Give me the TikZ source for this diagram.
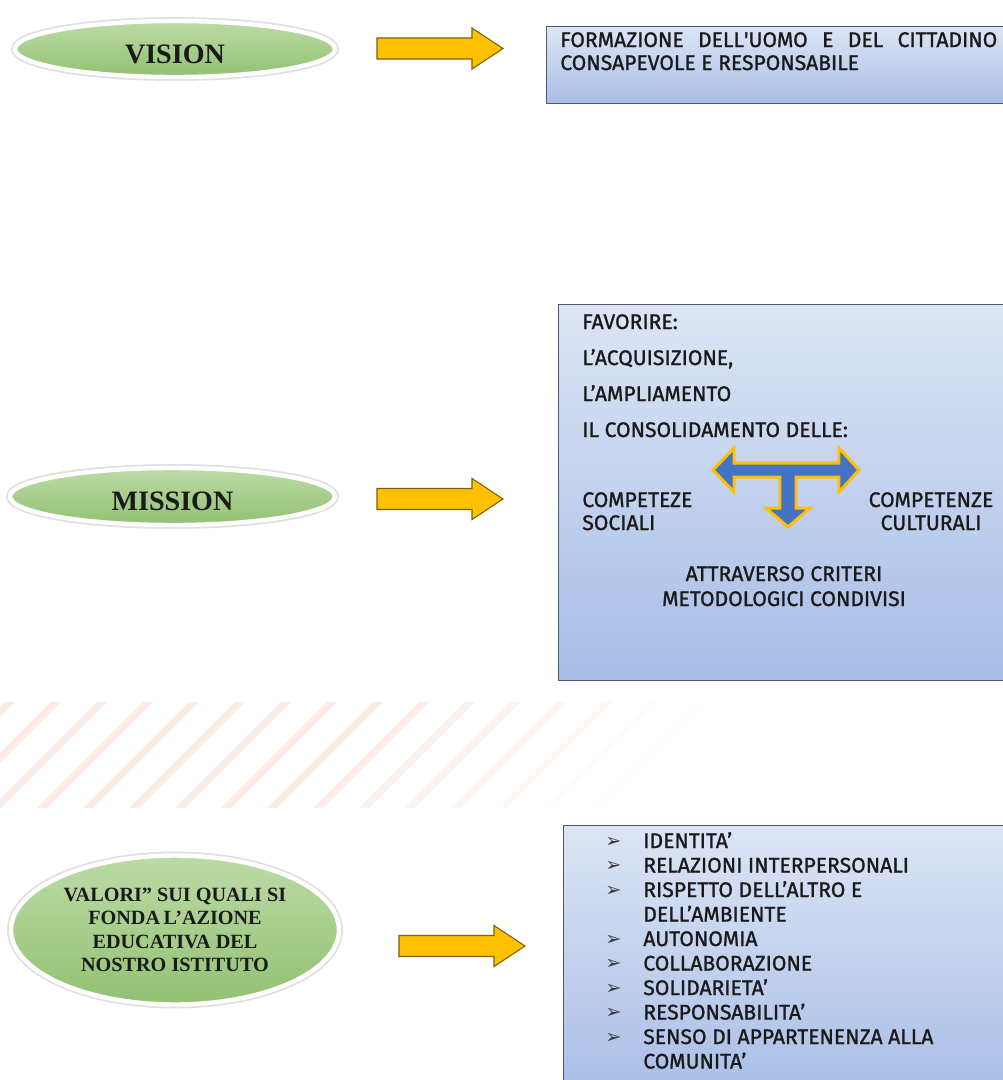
\documentclass[tikz,border=0pt]{standalone}
\usepackage{fontspec}
\setmainfont{Liberation Serif}
\setsansfont{Fira Sans}
\newfontfamily\dinfont[FakeBold=1.2]{Fira Sans}
\newfontfamily\symfont{DejaVu Sans}
\usetikzlibrary{positioning,shapes.geometric}

\definecolor{arrowyellow}{HTML}{FFC000}
\definecolor{arrowedge}{HTML}{7F6000}
\definecolor{tblue}{HTML}{4472C4}
\definecolor{boxtop}{HTML}{F7F9FD}
\definecolor{boxblue}{HTML}{A8BDE6}
\definecolor{boxlight}{HTML}{C2D1EE}
\definecolor{greentop}{HTML}{BCDBA6}
\definecolor{greenbot}{HTML}{92C172}
\definecolor{stripecol}{HTML}{FCEBE3}
\definecolor{edgegray}{HTML}{505A66}
\definecolor{inkcol}{HTML}{1A1A1A}

\pgfdeclareverticalshading{boxfill}{100bp}{color(0bp)=(boxlight); color(25bp)=(boxblue); color(100bp)=(boxtop)}

\tikzset{
  oval/.style={ellipse, inner sep=0pt, top color=greentop, bottom color=greenbot,
    draw=white, line width=2.5pt, preaction={draw=black!12, line width=4.5pt},
    text=inkcol, align=center},
  ovaltext/.style={font=\rmfamily\bfseries\fontsize{16}{19}\selectfont, text height=16pt, text depth=0pt},
  infobox/.style={rectangle, inner sep=0pt, draw=edgegray, line width=0.8pt, shading=boxfill, anchor=north west},
  boxtext/.style={font=\dinfont\fontsize{12}{14}\selectfont, text=inkcol, anchor=base west, inner sep=0pt},
  bulletmark/.style={font=\symfont\fontsize{11}{11}\selectfont, text=inkcol!85, anchor=base west, inner sep=0pt}
}

\begin{document}
\begin{tikzpicture}[x=0.02cm, y=-0.02cm]
  \useasboundingbox[fill=white] (0,0) rectangle (1003,1080);

  % striped band
  \begin{scope}
    \clip (0,702) rectangle (720,807);
    \foreach \i in {0,...,17}{
      \pgfmathtruncatemacro\p{min(100, max(0, (720-(5+46*\i))/3.2))}
      \draw[stripecol!\p!white, line width=4pt] ({-100+46*\i}, 812) -- ++(115,-115);
    }
  \end{scope}

  \node[oval, ovaltext, minimum width=6.4cm, minimum height=1.12cm] (vision) at (175,49) {VISION};
  \node[oval, ovaltext, minimum width=6.5cm, minimum height=1.14cm] (mission) at (172.5,496.5) {MISSION};
  \node[oval, font=\rmfamily\bfseries\fontsize{11.5}{13.3}\selectfont, minimum width=6.56cm, minimum height=2.98cm] (valori) at (175,930)
    {VALORI” SUI QUALI SI\\FONDA\kern2pt L’AZIONE\\EDUCATIVA DEL\\NOSTRO ISTITUTO};

  \foreach \ax/\ay in {377/48.5, 377/499, 399/946}
    \filldraw[fill=arrowyellow, draw=arrowedge, line width=0.6pt]
      (\ax,{\ay-10.5}) -- ({\ax+95},{\ay-10.5}) -- ({\ax+95},{\ay-20.5}) -- ({\ax+126},\ay)
      -- ({\ax+95},{\ay+20.5}) -- ({\ax+95},{\ay+10.5}) -- (\ax,{\ay+10.5}) -- cycle;

  \node[infobox, minimum width=9.28cm, minimum height=1.54cm] (visionbox) at (546,26) {};
  \node[infobox, minimum width=9.04cm, minimum height=7.52cm] (missionbox) at (558,304) {};
  \node[infobox, minimum width=8.94cm, minimum height=5.5cm] (valoribox) at (563,825) {};

  \node[boxtext] (form1) at (560,47) {\makebox[8.74cm][s]{FORMAZIONE DELL\textquotesingle UOMO E DEL CITTADINO}};
  \node[boxtext] (form2) at (560,70) {CONSAPEVOLE E RESPONSABILE};

  \node[boxtext] (fav) at (582,329) {FAVORIRE:};
  \node[boxtext] (acq) at (582,365) {L’ACQUISIZIONE,};
  \node[boxtext] (amp) at (582,401) {L’AMPLIAMENTO};
  \node[boxtext] (cons) at (582,437) {IL CONSOLIDAMENTO DELLE:};
  \node[boxtext] (soc1) at (582,507) {COMPETEZE};
  \node[boxtext] (soc2) at (582,530) {SOCIALI};
  \node[boxtext, anchor=base] (cult1) at (931,507) {COMPETENZE};
  \node[boxtext, anchor=base] (cult2) at (931,530) {CULTURALI};
  \node[boxtext, anchor=base] (meth1) at (784,581) {ATTRAVERSO CRITERI};
  \node[boxtext, anchor=base] (meth2) at (784,606) {METODOLOGICI CONDIVISI};

  \filldraw[fill=tblue, draw=arrowyellow, line width=1.7pt, line join=miter]
    (713,470) -- (734,448) -- (734,463) -- (839,463) -- (839,448) -- (859,470) -- (839,492)
    -- (839,477) -- (796,477) -- (796,508) -- (810,508) -- (788,527) -- (766,508)
    -- (780,508) -- (780,477) -- (734,477) -- (734,492) -- cycle;

  \foreach \txt/\blt [count=\i from 0] in {IDENTITA’/1, RELAZIONI INTERPERSONALI/1,
      RISPETTO DELL’ALTRO E/1, DELL’AMBIENTE/0, AUTONOMIA/1, COLLABORAZIONE/1,
      SOLIDARIETA’/1, RESPONSABILITA’/1, SENSO DI APPARTENENZA ALLA/1, COMUNITA’/0}{
    \node[boxtext] (val\i) at (643,{848+24.5*\i}) {\txt};
    \ifnum\blt=1 \node[bulletmark] at (605,{847+24.5*\i}) {➢}; \fi
  }
\end{tikzpicture}
\end{document}
